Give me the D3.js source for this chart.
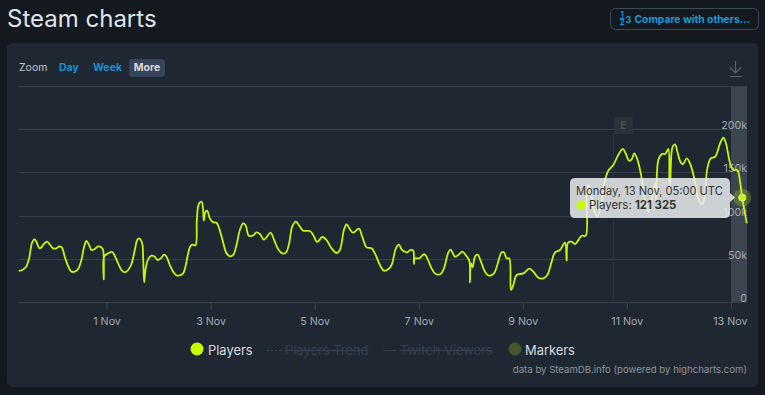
<!DOCTYPE html>
<html lang="en">
<head>
    <meta charset="UTF-8">
    <title>Steam charts</title>
    <script src="https://d3js.org/d3.v7.min.js"></script>
    <style>
        body {
            margin: 0;
            background-color: #14181f;
            overflow: hidden;
        }
        svg {
            display: block;
        }
        text {
            font-family: Inter, "Noto Sans", Arial, sans-serif;
        }
        .grid .domain {
            display: none;
        }
        .grid line {
            stroke: #353f4d;
        }
        .grid text {
            fill: #a2a8ae;
            font-size: 10.7px;
        }
        .xaxis .domain {
            display: none;
        }
        .xaxis line {
            stroke: #3c4859;
        }
        .xaxis text {
            fill: #a2a8ae;
            font-size: 10.7px;
        }
    </style>
</head>
<body>
<div id="chart"></div>
<script>
    // Hours since 1 Nov 00:00 UTC
    const hours = [
        -40.75, -39.06, -37.52, -35.98, -34.6, -33.52, -32.6, -31.37, -30.44, -29.21,
        -27.67, -26.44, -24.9, -23.37, -22.14, -20.9, -19.52, -17.98, -16.44, -14.9,
        -13.37, -11.83, -10.6, -9.52, -8.44, -7.21, -5.67, -4.13, -2.6, -1.83,
        -1.52, -1.36, 0.48, 2.48, 3.71, 5.1, 6.63, 8.17, 9.71, 11.25,
        12.79, 13.87, 14.79, 16.17, 16.63, 17.1, 17.71, 18.94, 20.48, 22.02,
        23.25, 24.79, 26.33, 27.41, 28.94, 30.48, 32.02, 33.56, 35.1, 36.33,
        37.09, 38.17, 39.24, 40.78, 41.4, 42.32, 43.55, 44.17, 44.63, 45.4,
        46.17, 47.4, 48.94, 50.48, 51.71, 53.25, 55.09, 56.63, 58.17, 59.71,
        61.25, 62.78, 63.86, 65.4, 67.4, 68.94, 70.48, 72.32, 73.55, 75.4,
        77.09, 78.94, 80.78, 82.48, 84, 85.4, 87.09, 88.94, 90.48, 93.55,
        95.09, 96.94, 99.25, 101.25, 103.55, 105.86, 107.4, 109.25, 110.48, 112.02,
        113.55, 116.17, 117.71, 119.71, 122.02, 123.55, 125.86, 127.7, 129.7, 131.24,
        133.24, 134.62, 135.86, 137.4, 138.47, 140, 141.24, 141.55, 142, 144,
        146.32, 147.7, 149.7, 151.55, 153.86, 155.4, 157.4, 158.47, 160.47, 162,
        163.86, 165.4, 167.09, 167.4, 167.86, 168.63, 169.7, 170.93, 172.47, 174.32,
        176.32, 178.47, 180, 182, 183.09, 184.32, 185.55, 186.32, 187.4, 188.93,
        192, 194.78, 196.63, 198.93, 201.24, 203.09, 205.09, 206.63, 208.93, 211.24,
        212, 212.62, 214.32, 215.86, 218.93, 220.78, 221.24, 221.98, 223.09, 224.6,
        226.1, 227.7, 229.7, 231.2, 233.5, 235.8, 237.9, 239.2, 240.8, 242,
        243.2, 244.6, 246.2, 247.7, 249.7, 250.9, 252.8, 253.2, 254.3, 255.9,
        257.4, 258.9, 259.4, 259.7, 260.3, 260.9, 262, 263.1, 264.3, 265.6,
        267.4, 269.2, 271.2, 272.7, 274.3, 275.4, 276.9, 278.5, 280.5, 282.8,
        284.3, 285.5, 287.4, 288.9, 290.7, 292, 293, 295.1
    ];

    // Players, in thousands
    const players = [
        36.5, 37.6, 40.7, 51.1, 69.2, 73.1, 70.4, 63.1, 63.5, 67.7,
        70.4, 67.3, 62.7, 62.7, 65, 63.8, 53, 42.2, 35.7, 35.7,
        38.8, 49.2, 64.6, 71.2, 67.3, 60.8, 61.9, 65, 63.8, 60.8,
        26.8, 53, 56.9, 58.4, 53, 45.3, 37.6, 34.9, 37.6, 44.6,
        60.8, 72.3, 74.3, 68.5, 53, 23.3, 37.6, 49.9, 54.2, 53,
        49.2, 51.1, 55.4, 53, 43.4, 35.7, 31.4, 31.4, 33.7, 43.4,
        53, 63.8, 66.9, 66.2, 95.5, 114, 116.7, 110.9, 94.7, 105.1,
        106.3, 97.4, 92.8, 92.4, 85.8, 72.3, 56.9, 53.4, 55, 66.5,
        83.9, 91.6, 89.7, 77.3, 77.7, 81.2, 79.3, 72.7, 75.4, 80.8,
        72.3, 61.5, 56.9, 57.7, 68.5, 87.8, 93.6, 87.8, 83.1, 82.7,
        78.1, 70, 75.8, 72.3, 62.7, 57.3, 60.8, 83.9, 90.5, 84.7,
        80.8, 85.4, 76.2, 63.8, 62.7, 56.9, 43.4, 36.8, 38.4, 43.4,
        62.7, 66.9, 61.5, 58.8, 58.1, 60.8, 60, 44.6, 51.1, 51.1,
        56.1, 51.1, 39.5, 33, 33, 39.5, 57.7, 61.1, 53, 55,
        58.8, 55, 48.4, 23.3, 45.3, 40.7, 53, 55.4, 47.3, 35.7,
        31, 33.7, 43.4, 58.1, 58.1, 51.1, 51.1, 14.5, 20.2, 31.8,
        33.7, 39.1, 35.7, 28.7, 28, 31.8, 47.3, 58.1, 60.8, 69.2,
        48.4, 69.2, 70.4, 67.7, 77.3, 77.3, 122.5, 136, 128.2, 107.1,
        100.1, 109.4, 141.8, 152.5, 159.1, 170.7, 177.7, 172.7, 164.1, 165.7,
        172.7, 165.7, 149.5, 124.4, 105.1, 115.2, 138.3, 118.6, 164.9, 171.9,
        171.9, 177.7, 141.8, 136, 170.7, 180.3, 183.1, 174.5, 163.8, 160,
        166.9, 159.1, 139.8, 120.6, 113.7, 118.6, 155.3, 166.9, 168.7, 184.3,
        190.7, 184.3, 161.1, 153.4, 153.4, 139.8, 121.325, 91.7
    ];

    const yTicks = [0, 50, 100, 150, 200, 250];
    const xTicks = [0, 48, 96, 144, 192, 240, 288];
    const xTickLabels = ["1 Nov", "3 Nov", "5 Nov", "7 Nov", "9 Nov", "11 Nov", "13 Nov"];
    const flagHours = 233.8;
    const hoverIndex = hours.indexOf(293);
    const lime = "#c4f60c";

    const svg = d3.select("#chart")
        .append("svg")
        .attr("width", 765)
        .attr("height", 395);

    // Title and panel
    svg.append("text").attr("x", 7).attr("y", 27)
        .attr("font-size", 24).attr("fill", "#dfe3e8").text("Steam charts");
    svg.append("rect").attr("x", 7).attr("y", 43).attr("width", 751).attr("height", 344)
        .attr("rx", 5).attr("fill", "#1f2732");

    // Compare button
    svg.append("rect").attr("x", 610.5).attr("y", 8.5).attr("width", 148).attr("height", 21)
        .attr("rx", 5).attr("fill", "none").attr("stroke", "#3c4858");
    const blue = "#1b9ad8";
    svg.append("text").attr("x", 622).attr("y", 17).attr("text-anchor", "middle")
        .attr("font-size", 7.5).attr("font-weight", 700).attr("fill", blue).text("1");
    svg.append("text").attr("x", 622).attr("y", 25).attr("text-anchor", "middle")
        .attr("font-size", 7.5).attr("font-weight", 700).attr("fill", blue).text("2");
    svg.append("line").attr("x1", 620).attr("x2", 624.5).attr("y1", 18.5).attr("y2", 18.5)
        .attr("stroke", blue);
    svg.append("text").attr("x", 628.5).attr("y", 22.5).attr("text-anchor", "middle")
        .attr("font-size", 9).attr("font-weight", 700).attr("fill", blue).text("3");
    svg.append("text").attr("x", 634.5).attr("y", 22.5)
        .attr("font-size", 10.3).attr("font-weight", 700).attr("fill", blue).text("Compare with others…");

    // Zoom buttons
    svg.append("text").attr("x", 19).attr("y", 71).attr("font-size", 10.5).attr("fill", "#c6c9cd").text("Zoom");
    svg.append("text").attr("x", 59).attr("y", 71).attr("font-size", 10.5).attr("font-weight", 700)
        .attr("fill", "#1592d0").text("Day");
    svg.append("text").attr("x", 93).attr("y", 71).attr("font-size", 10.5).attr("font-weight", 700)
        .attr("fill", "#1592d0").text("Week");
    svg.append("rect").attr("x", 129).attr("y", 59).attr("width", 36).attr("height", 18)
        .attr("rx", 3).attr("fill", "#38445a");
    svg.append("text").attr("x", 147).attr("y", 71).attr("text-anchor", "middle").attr("font-size", 10.5)
        .attr("font-weight", 700).attr("fill", "#d8dadd").text("More");

    // Download icon
    svg.append("path").attr("d", "M735.5 61V72.5M730 67.5L735.5 73L741 67.5M730 76.5H742")
        .attr("fill", "none").attr("stroke", "#59626c").attr("stroke-width", 1.2);

    const x = d3.scaleLinear().domain([-41, 295.2]).range([18.2, 747]);
    const y = d3.scaleLinear().domain([0, 250]).range([302.5, 86.5]);

    // Hover band
    svg.append("rect").attr("x", 731).attr("y", 86.5).attr("width", 16).attr("height", 216)
        .attr("fill", "#3d4551");

    // Grid lines and y labels
    const yAxis = svg.append("g")
        .attr("class", "grid")
        .attr("transform", "translate(747,0)")
        .call(d3.axisLeft(y).tickValues(yTicks).tickSize(728).offset(0)
            .tickFormat(d => d === 0 ? "0" : d === 250 ? "" : d + "k"));
    yAxis.selectAll(".tick").attr("transform", d => `translate(0,${Math.floor(y(d)) + 0.5})`);
    yAxis.selectAll("text").attr("x", 0).attr("dy", 0).attr("y", -1).attr("text-anchor", "end");

    // X axis
    const xAxis = svg.append("g")
        .attr("class", "xaxis")
        .attr("transform", "translate(0,302.5)")
        .call(d3.axisBottom(x).tickValues(xTicks).tickSize(7).offset(0)
            .tickFormat((d, i) => xTickLabels[i]));
    xAxis.selectAll("text").attr("y", 18.5).attr("dy", "0.35em");
    xAxis.selectAll(".tick:last-of-type text").attr("text-anchor", "end").attr("x", 16);

    // Marker flag
    svg.append("line").attr("x1", Math.floor(x(flagHours)) + 0.5).attr("x2", Math.floor(x(flagHours)) + 0.5)
        .attr("y1", 134).attr("y2", 302).attr("stroke", "#28323e");
    svg.append("rect").attr("x", x(flagHours)).attr("y", 117).attr("width", 19).attr("height", 17)
        .attr("fill", "#29343a");
    svg.append("text").attr("x", x(flagHours) + 9.5).attr("y", 129).attr("text-anchor", "middle")
        .attr("font-size", 10).attr("font-weight", 700).attr("fill", "#4a5354").text("E");

    // Players line
    const line = d3.line()
        .x((d, i) => x(hours[i]))
        .y(d => y(d))
        .curve(d3.curveCatmullRom.alpha(0.5));
    svg.append("path")
        .attr("d", line(players))
        .attr("fill", "none")
        .attr("stroke", lime)
        .attr("stroke-width", 1.8)
        .attr("stroke-linejoin", "round");

    // Hover point
    const hx = x(hours[hoverIndex]);
    const hy = y(players[hoverIndex]);
    svg.append("circle").attr("cx", hx).attr("cy", hy).attr("r", 9).attr("fill", lime).attr("opacity", 0.25);
    svg.append("circle").attr("cx", hx).attr("cy", hy).attr("r", 3.5)
        .attr("fill", lime).attr("stroke", "#e8f5b0").attr("stroke-width", 1);

    // Tooltip
    svg.append("path")
        .attr("d", "M575 178H725Q730 178 730 183V193L735 197.5L730 202V213Q730 218 725 218H575Q570 218 570 213V183Q570 178 575 178Z")
        .attr("fill", "#eceeef").attr("fill-opacity", 0.85);
    svg.append("text").attr("x", 576).attr("y", 195).attr("font-size", 11.1).attr("fill", "#333")
        .text("Monday, 13 Nov, 05:00 UTC");
    svg.append("circle").attr("cx", 581).attr("cy", 205).attr("r", 4.5).attr("fill", "#c8fa00");
    const tipValue = svg.append("text").attr("x", 589).attr("y", 209).attr("font-size", 11.4).attr("fill", "#333");
    tipValue.append("tspan").text("Players: ");
    tipValue.append("tspan").attr("font-weight", 700).text("121 325");

    // Legend
    svg.append("circle").attr("cx", 197).attr("cy", 349).attr("r", 6.5).attr("fill", "#c8fa00");
    svg.append("text").attr("x", 208).attr("y", 354.5).attr("font-size", 12.9).attr("fill", "#d8dbdf").text("Players");
    svg.append("line").attr("x1", 267).attr("x2", 281).attr("y1", 350.5).attr("y2", 350.5)
        .attr("stroke", "#333f4e").attr("stroke-dasharray", "2 2");
    svg.append("text").attr("x", 285).attr("y", 354.5).attr("font-size", 12.9).attr("fill", "#333f4e")
        .attr("text-decoration", "line-through").text("Players Trend");
    svg.append("line").attr("x1", 383).attr("x2", 396).attr("y1", 350.5).attr("y2", 350.5)
        .attr("stroke", "#333f4e");
    svg.append("text").attr("x", 400).attr("y", 354.5).attr("font-size", 12.9).attr("fill", "#333f4e")
        .attr("text-decoration", "line-through").text("Twitch Viewers");
    svg.append("circle").attr("cx", 515).attr("cy", 349).attr("r", 6.5).attr("fill", "#45552c");
    svg.append("text").attr("x", 525).attr("y", 354.5).attr("font-size", 12.9).attr("fill", "#d8dbdf").text("Markers");

    svg.append("text").attr("x", 747).attr("y", 373).attr("text-anchor", "end").attr("font-size", 9.6)
        .attr("fill", "#8f959c").text("data by SteamDB.info (powered by highcharts.com)");
</script>
</body>
</html>
